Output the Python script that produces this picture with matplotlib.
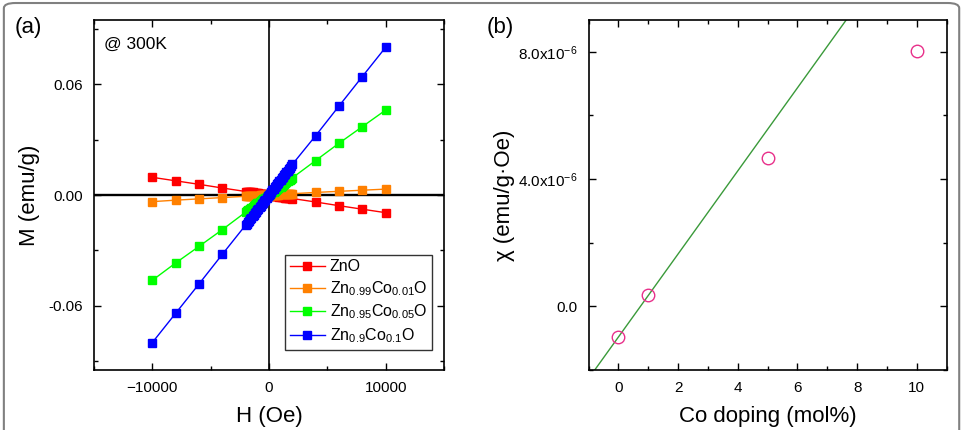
import numpy as np
import matplotlib
matplotlib.use("Agg")
import matplotlib.pyplot as plt
from matplotlib.patches import FancyBboxPatch
from matplotlib.ticker import MultipleLocator, FixedLocator, FixedFormatter

plt.rcParams['font.family'] = ['Liberation Sans', 'DejaVu Sans']
plt.rcParams['mathtext.default'] = 'regular'

# --- panel (a): M-H loops at 300 K ---
H = [-10000, -8000, -6000, -4000,
     -2000, -1900, -1800, -1700, -1600, -1500, -1400, -1300, -1200, -1100, -1000,
     -900, -800, -700, -600, -500, -400, -300, -200, -100, 0,
     100, 200, 300, 400, 500, 600, 700, 800, 900, 1000,
     1100, 1200, 1300, 1400, 1500, 1600, 1700, 1800, 1900, 2000,
     4000, 6000, 8000, 10000]
M_zno = [0.0096, 0.0077, 0.0058, 0.0038,
         0.0019, 0.0018, 0.0017, 0.0017, 0.0016, 0.0014, 0.0014, 0.0013, 0.0012, 0.0011, 0.0010,
         0.0009, 0.0008, 0.0007, 0.0006, 0.0005, 0.0004, 0.0003, 0.0002, 0.0001, 0.0,
         -0.0001, -0.0002, -0.0003, -0.0004, -0.0005, -0.0006, -0.0007, -0.0008, -0.0009, -0.0010,
         -0.0011, -0.0012, -0.0013, -0.0014, -0.0014, -0.0016, -0.0017, -0.0017, -0.0018, -0.0019,
         -0.0038, -0.0058, -0.0077, -0.0096]
M_co01 = [-0.0036, -0.0028, -0.0021, -0.0014,
          -0.0007, -0.00065, -0.0006, -0.00058, -0.00054, -0.0005, -0.00048, -0.00044, -0.0004, -0.00037, -0.00034,
          -0.0003, -0.00027, -0.00024, -0.0002, -0.00017, -0.00014, -0.0001, -0.00007, -0.00003, 0.0,
          0.00003, 0.00007, 0.0001, 0.00014, 0.00017, 0.0002, 0.00024, 0.00027, 0.0003, 0.00034,
          0.00037, 0.0004, 0.00044, 0.00048, 0.0005, 0.00054, 0.00058, 0.0006, 0.00065, 0.0007,
          0.0014, 0.0020, 0.0026, 0.0032]
M_co05 = [-0.0463, -0.0369, -0.0279, -0.0188,
          -0.0093, -0.0088, -0.0084, -0.0079, -0.0074, -0.0070, -0.0065, -0.0060, -0.0056, -0.0051, -0.0046,
          -0.0042, -0.0037, -0.0033, -0.0028, -0.0023, -0.0019, -0.0014, -0.0009, -0.0005, 0.0,
          0.0005, 0.0009, 0.0014, 0.0019, 0.0023, 0.0028, 0.0033, 0.0037, 0.0042, 0.0046,
          0.0051, 0.0056, 0.0060, 0.0065, 0.0070, 0.0074, 0.0079, 0.0084, 0.0088, 0.0093,
          0.0187, 0.0281, 0.0371, 0.0461]
M_co10 = [-0.0801, -0.0642, -0.0483, -0.0322,
          -0.0163, -0.0155, -0.0147, -0.0139, -0.0131, -0.0123, -0.0114, -0.0106, -0.0098, -0.0090, -0.0082,
          -0.0074, -0.0065, -0.0057, -0.0049, -0.0041, -0.0033, -0.0025, -0.0016, -0.0008, 0.0,
          0.0008, 0.0017, 0.0025, 0.0033, 0.0042, 0.0050, 0.0058, 0.0066, 0.0075, 0.0083,
          0.0091, 0.0100, 0.0108, 0.0116, 0.0125, 0.0133, 0.0141, 0.0149, 0.0158, 0.0166,
          0.0322, 0.0483, 0.0643, 0.0802]

series_labels = ['ZnO', r'Zn$_{0.99}$Co$_{0.01}$O', r'Zn$_{0.95}$Co$_{0.05}$O', r'Zn$_{0.9}$Co$_{0.1}$O']
series_colors = ['#ff0000', '#ff8000', '#00ff00', '#0000ff']

# --- panel (b): susceptibility vs Co doping ---
co_doping = [0, 1, 5, 10]
chi = [-0.96e-6, 0.345e-6, 4.66e-6, 8.01e-6]
fit_slope = 1.305e-6
fit_intercept = -0.96e-6

fig = plt.figure(figsize=(9.65, 4.3), dpi=100)

# rounded frame around the whole figure
frame = FancyBboxPatch((0.004, -0.05), 0.99, 1.043, boxstyle="round,pad=0,rounding_size=0.012",
                       transform=fig.transFigure, fill=False, edgecolor='#808080', linewidth=1.5)
fig.patches.append(frame)

# ---------------- (a) ----------------
ax1 = fig.add_axes([0.0974, 0.1395, 0.3627, 0.814])
ax1.axhline(0, color='black', lw=1.7, zorder=1)
ax1.axvline(0, color='black', lw=1.2, zorder=1)
for M, lab, col in zip([M_zno, M_co01, M_co05, M_co10], series_labels, series_colors):
    ax1.plot(H, M, '-s', color=col, lw=1.0, ms=5.5, mec=col, label=lab, zorder=3)

ax1.set_xlim(-15000, 15000)
ax1.set_ylim(-0.095, 0.095)
ax1.xaxis.set_major_locator(FixedLocator([-10000, 0, 10000]))
ax1.xaxis.set_minor_locator(MultipleLocator(5000))
ax1.yaxis.set_major_locator(FixedLocator([-0.06, 0.0, 0.06]))
ax1.yaxis.set_major_formatter(FixedFormatter(['-0.06', '0.00', '0.06']))
ax1.yaxis.set_minor_locator(MultipleLocator(0.03))
ax1.set_xlabel('H (Oe)', fontsize=16, labelpad=8)
ax1.set_ylabel('M (emu/g)', fontsize=16, labelpad=6)
ax1.text(0.03, 0.93, '@ 300K', transform=ax1.transAxes, fontsize=12.5, va='center')
leg = ax1.legend(loc='lower right', bbox_to_anchor=(0.966, 0.058), fontsize=11.5, frameon=True,
                 fancybox=False, edgecolor='black', handlelength=2.2, handletextpad=0.3,
                 borderpad=0.3, labelspacing=0.3, borderaxespad=0)
leg.get_frame().set_linewidth(1.0)

# ---------------- (b) ----------------
ax2 = fig.add_axes([0.610, 0.1395, 0.371, 0.814])
xlim_b = (-1, 11)
fit_x = np.array(xlim_b)
ax2.plot(fit_x, fit_slope * fit_x + fit_intercept, color='#3a9a3a', lw=1.0, zorder=2)
ax2.plot(co_doping, chi, 'o', ms=9, mfc='none', mec='#e8308a', mew=1.0, zorder=3)
ax2.set_xlim(*xlim_b)
ax2.set_ylim(-2e-6, 9e-6)
ax2.xaxis.set_major_locator(MultipleLocator(2))
ax2.xaxis.set_minor_locator(MultipleLocator(1))
ax2.yaxis.set_major_locator(FixedLocator([0, 4e-6, 8e-6]))
ax2.yaxis.set_major_formatter(FixedFormatter(['0.0', r'4.0x10$^{-6}$', r'8.0x10$^{-6}$']))
ax2.yaxis.set_minor_locator(MultipleLocator(2e-6))
ax2.set_xlabel('Co doping (mol%)', fontsize=16, labelpad=8)
ax2.set_ylabel('χ (emu/g·Oe)', fontsize=16, labelpad=2)

for ax in (ax1, ax2):
    ax.tick_params(which='both', direction='in', top=True, right=True, labelsize=11, width=1.0)
    ax.tick_params(which='major', length=5, pad=8)
    ax.tick_params(which='minor', length=3)
    for sp in ax.spines.values():
        sp.set_linewidth(1.2)

fig.text(0.015, 0.935, '(a)', fontsize=16, va='center')
fig.text(0.504, 0.935, '(b)', fontsize=16, va='center')

fig.savefig('out.png', dpi=100, facecolor='white')
